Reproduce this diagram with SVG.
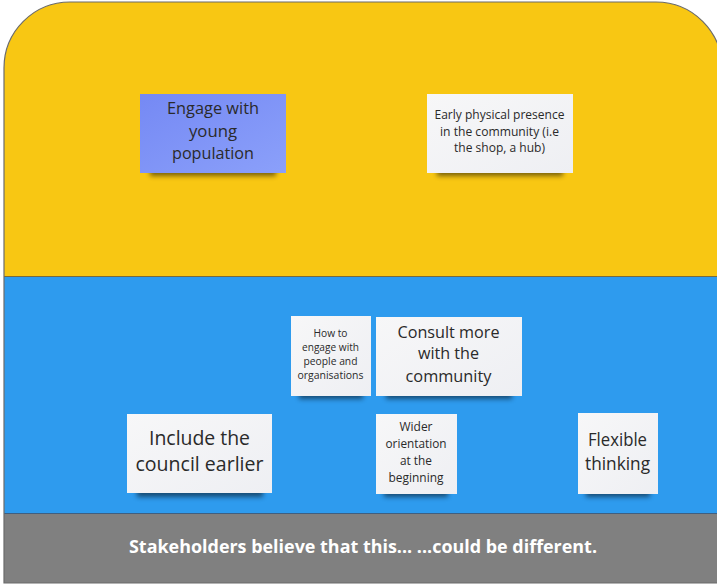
<svg xmlns="http://www.w3.org/2000/svg" width="717" height="585" viewBox="0 0 717 585">
<style>
.st{font-family:"Open Sans","Noto Sans","Liberation Sans",sans-serif;fill:#2a2a2a;text-anchor:middle}
.white{fill:#f3f4f7}
.shadow{fill:#000;opacity:0.5;filter:url(#blur)}
.title{font-family:"Open Sans","Noto Sans","Liberation Sans",sans-serif;font-weight:bold;fill:#ffffff;text-anchor:middle;font-size:17px}
</style>
<defs>
<clipPath id="board"><path d="M4,68 A66,66 0 0 1 70,2 L656,2 A66,66 0 0 1 722,68 L722,583 L4,583 Z"/></clipPath>
<filter id="blur" x="-20%" y="-50%" width="140%" height="200%"><feGaussianBlur stdDeviation="2.5"/></filter>
<linearGradient id="gBlue" x1="0" y1="0" x2="1" y2="1"><stop offset="0" stop-color="#7589f4"/><stop offset="1" stop-color="#8ba0fa"/></linearGradient>
<linearGradient id="gWhite" x1="0" y1="0" x2="1" y2="1"><stop offset="0" stop-color="#f7f7f8"/><stop offset="1" stop-color="#eeeff3"/></linearGradient>
</defs>
<g id="background">
<g clip-path="url(#board)">
<rect x="0" y="0" width="730" height="276" fill="#f8c713"/>
<rect x="0" y="276" width="730" height="237" fill="#2e9bee"/>
<rect x="0" y="513" width="730" height="72" fill="#808080"/>
<line x1="0" y1="276.5" x2="730" y2="276.5" stroke="#7a6a3a" stroke-width="1.2"/>
<line x1="0" y1="513.5" x2="730" y2="513.5" stroke="#3f5f80" stroke-width="1.2"/>
</g>
<path d="M4,68 A66,66 0 0 1 70,2 L656,2 A66,66 0 0 1 722,68 L722,583 L4,583 Z" fill="none" stroke="#6b6b6b" stroke-width="1.2"/>
</g>
<g id="connectors"/>
<g id="engage-young">
<rect class="shadow" x="150" y="160" width="126" height="16"/>
<rect x="140" y="94" width="146" height="79" fill="url(#gBlue)"/>
<text class="st" font-size="17"><tspan x="213" y="114" textLength="92" lengthAdjust="spacingAndGlyphs">Engage with</tspan><tspan x="213" y="137" textLength="48" lengthAdjust="spacingAndGlyphs">young</tspan><tspan x="213" y="159" textLength="82" lengthAdjust="spacingAndGlyphs">population</tspan></text>
</g>
<g id="early-presence">
<rect class="shadow" x="437" y="160" width="126" height="16"/>
<rect x="427" y="94" width="146" height="79" fill="url(#gWhite)"/>
<text class="st" font-size="12.5"><tspan x="499.5" y="118.5" textLength="130" lengthAdjust="spacingAndGlyphs">Early physical presence</tspan><tspan x="499.5" y="135.5" textLength="119" lengthAdjust="spacingAndGlyphs">in the community (i.e</tspan><tspan x="499.5" y="151.5" textLength="91" lengthAdjust="spacingAndGlyphs">the shop, a hub)</tspan></text>
</g>
<g id="how-to-engage">
<rect class="shadow" x="299" y="383" width="64" height="16"/>
<rect x="291" y="316" width="80" height="80" fill="url(#gWhite)"/>
<text class="st" font-size="10.5"><tspan x="330.5" y="336.5" textLength="34" lengthAdjust="spacingAndGlyphs">How to</tspan><tspan x="330.5" y="350.7" textLength="57" lengthAdjust="spacingAndGlyphs">engage with</tspan><tspan x="330.5" y="364.7" textLength="54" lengthAdjust="spacingAndGlyphs">people and</tspan><tspan x="330.5" y="378.7" textLength="66" lengthAdjust="spacingAndGlyphs">organisations</tspan></text>
</g>
<g id="consult-more">
<rect class="shadow" x="386" y="383" width="126" height="16"/>
<rect x="376" y="317" width="146" height="79" fill="url(#gWhite)"/>
<text class="st" font-size="17"><tspan x="448.5" y="337.7" textLength="102" lengthAdjust="spacingAndGlyphs">Consult more</tspan><tspan x="448.5" y="359" textLength="61" lengthAdjust="spacingAndGlyphs">with the</tspan><tspan x="448.5" y="382" textLength="86" lengthAdjust="spacingAndGlyphs">community</tspan></text>
</g>
<g id="include-council">
<rect class="shadow" x="137" y="481" width="126" height="16"/>
<rect x="127" y="414" width="145" height="79" fill="url(#gWhite)"/>
<text class="st" font-size="20"><tspan x="199.5" y="444.7" textLength="101" lengthAdjust="spacingAndGlyphs">Include the</tspan><tspan x="199.5" y="471" textLength="128" lengthAdjust="spacingAndGlyphs">council earlier</tspan></text>
</g>
<g id="wider-orientation">
<rect class="shadow" x="384" y="481" width="64" height="16"/>
<rect x="376" y="414" width="81" height="80" fill="url(#gWhite)"/>
<text class="st" font-size="12.5"><tspan x="416" y="431.2" textLength="33" lengthAdjust="spacingAndGlyphs">Wider</tspan><tspan x="416" y="448" textLength="61" lengthAdjust="spacingAndGlyphs">orientation</tspan><tspan x="416" y="464.5" textLength="32" lengthAdjust="spacingAndGlyphs">at the</tspan><tspan x="416" y="481.5" textLength="55" lengthAdjust="spacingAndGlyphs">beginning</tspan></text>
</g>
<g id="flexible-thinking">
<rect class="shadow" x="586" y="481" width="64" height="16"/>
<rect x="578" y="413" width="80" height="81" fill="url(#gWhite)"/>
<text class="st" font-size="18"><tspan x="617.5" y="445.6" textLength="59" lengthAdjust="spacingAndGlyphs">Flexible</tspan><tspan x="617.5" y="469.6" textLength="65" lengthAdjust="spacingAndGlyphs">thinking</tspan></text>
</g>
<g id="footer">
<text class="title" x="363" y="552.5" textLength="468" lengthAdjust="spacingAndGlyphs">Stakeholders believe that this... ...could be different.</text>
</g>
</svg>
